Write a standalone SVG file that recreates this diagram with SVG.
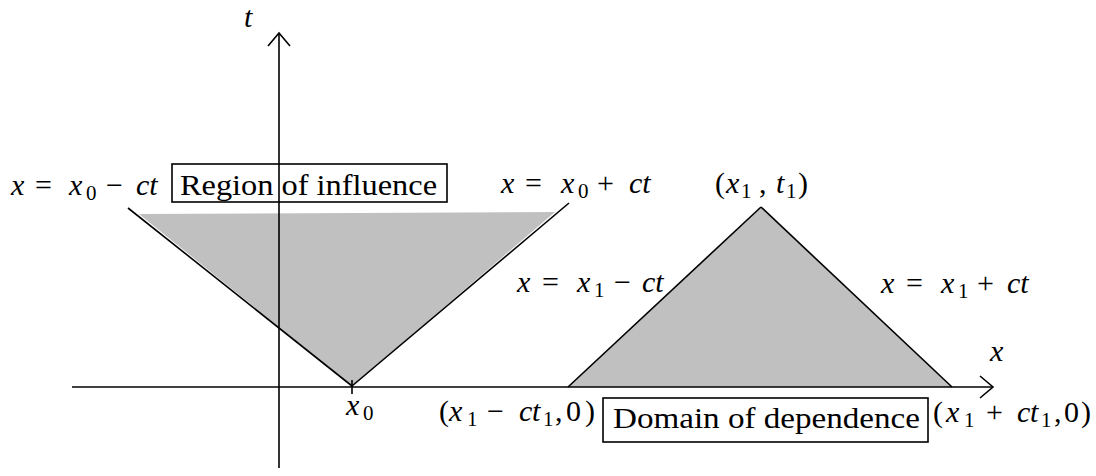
<svg xmlns="http://www.w3.org/2000/svg" width="1096" height="476" viewBox="0 0 1096 476">
<style>
.m{font-family:'Liberation Serif','Times New Roman',serif;font-size:30px;fill:#000}
.i{font-style:italic}
.s{font-size:21px}
.ln{stroke:#000;stroke-width:1.6;fill:none}
.bx{stroke:#000;stroke-width:1.6;fill:none}
.sh{fill:#c0c0c0;stroke:none}
</style>
<defs>
<marker id="arr" markerUnits="userSpaceOnUse" markerWidth="40" markerHeight="40" viewBox="-20 -20 40 40" refX="0" refY="0" orient="auto" overflow="visible">
<path d="M -13 -11 L 0 0 L -13 11" fill="none" stroke="#000" stroke-width="1.6"/>
</marker>
</defs>
<rect width="1096" height="476" fill="#fff"/>
<g id="regions">
<polygon class="sh" points="139,214 555,212 352,386"/>
<polygon class="sh" points="568,387 761,207 952,387"/>
</g>
<g id="connectors">
<line class="ln" x1="72" y1="387" x2="993" y2="387" marker-end="url(#arr)"/>
<line class="ln" x1="279" y1="468" x2="279" y2="33" marker-end="url(#arr)"/>
<line class="ln" x1="128" y1="208" x2="352" y2="386"/>
<line class="ln" x1="352" y1="386" x2="569" y2="203"/>
<line class="ln" x1="568" y1="387" x2="761" y2="207"/>
<line class="ln" x1="761" y1="207" x2="952" y2="387"/>
<line class="ln" x1="352" y1="380" x2="352" y2="394"/>
</g>
<g id="label-t"><text class="m i" x="244" y="27">t</text></g>
<g id="label-x"><text class="m i" x="990" y="361">x</text></g>
<g id="label-left-line">
<text class="m"><tspan class="i" x="11" y="195">x</tspan><tspan x="35" y="195">=</tspan><tspan class="i" x="69" y="195">x</tspan><tspan class="s" x="86" y="200">0</tspan><tspan x="106" y="195">−</tspan><tspan class="i" x="136" y="195">ct</tspan></text>
</g>
<g id="region-of-influence">
<rect class="bx" x="172" y="164" width="275" height="38"/>
<text class="m" x="180" y="195" textLength="257" lengthAdjust="spacingAndGlyphs">Region of influence</text>
</g>
<g id="label-right-line0">
<text class="m"><tspan class="i" x="501" y="193">x</tspan><tspan x="525" y="193">=</tspan><tspan class="i" x="561" y="193">x</tspan><tspan class="s" x="578" y="198">0</tspan><tspan x="597" y="193">+</tspan><tspan class="i" x="629" y="193">ct</tspan></text>
</g>
<g id="label-apex">
<text class="m"><tspan x="715" y="193">(</tspan><tspan class="i" x="726" y="193">x</tspan><tspan class="s" x="741" y="198">1</tspan><tspan x="759" y="193">,</tspan><tspan class="i" x="776" y="193">t</tspan><tspan class="s" x="786" y="198">1</tspan><tspan x="798" y="193">)</tspan></text>
</g>
<g id="label-x1-minus">
<text class="m"><tspan class="i" x="517" y="292">x</tspan><tspan x="542" y="292">=</tspan><tspan class="i" x="577" y="292">x</tspan><tspan class="s" x="594" y="297">1</tspan><tspan x="614" y="292">−</tspan><tspan class="i" x="642" y="292">ct</tspan></text>
</g>
<g id="label-x1-plus">
<text class="m"><tspan class="i" x="881" y="293">x</tspan><tspan x="906" y="293">=</tspan><tspan class="i" x="941" y="293">x</tspan><tspan class="s" x="958" y="298">1</tspan><tspan x="977" y="293">+</tspan><tspan class="i" x="1007" y="293">ct</tspan></text>
</g>
<g id="label-x0">
<text class="m"><tspan class="i" x="346" y="415">x</tspan><tspan class="s" x="363" y="420">0</tspan></text>
</g>
<g id="label-left-base">
<text class="m"><tspan x="439" y="421">(</tspan><tspan class="i" x="449" y="421">x</tspan><tspan class="s" x="467" y="426">1</tspan><tspan x="487" y="421">−</tspan><tspan class="i" x="519" y="421">c</tspan><tspan class="i" x="532" y="421">t</tspan><tspan class="s" x="543" y="426">1</tspan><tspan x="555" y="421">,</tspan><tspan x="566" y="421">0</tspan><tspan x="585" y="421">)</tspan></text>
</g>
<g id="domain-of-dependence">
<rect class="bx" x="603" y="398" width="325" height="44"/>
<text class="m" x="613" y="428" textLength="307" lengthAdjust="spacingAndGlyphs">Domain of dependence</text>
</g>
<g id="label-right-base">
<text class="m"><tspan x="933" y="422">(</tspan><tspan class="i" x="946" y="422">x</tspan><tspan class="s" x="964" y="427">1</tspan><tspan x="986" y="422">+</tspan><tspan class="i" x="1017" y="422">c</tspan><tspan class="i" x="1030" y="422">t</tspan><tspan class="s" x="1041" y="427">1</tspan><tspan x="1054" y="422">,</tspan><tspan x="1064" y="422">0</tspan><tspan x="1081" y="422">)</tspan></text>
</g>
</svg>
